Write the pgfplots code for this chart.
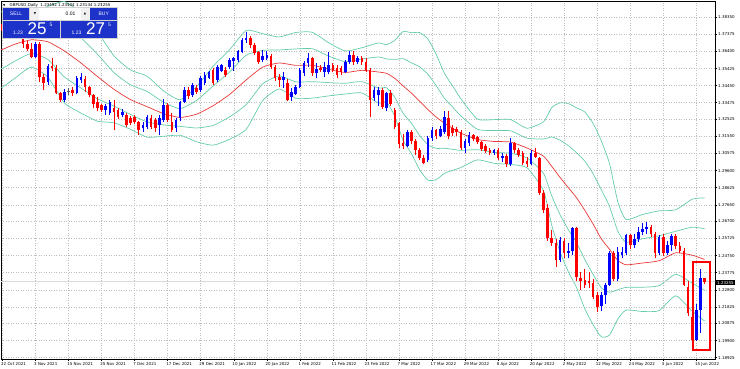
\documentclass[border=0pt]{standalone}
\usepackage{pgfplots}
\usepackage{pgfplotstable}
\pgfplotsset{compat=1.18}
\usepackage{fontspec}
\setmainfont{DejaVu Sans}
\newfontfamily\arialf{Liberation Sans}
\definecolor{cblue}{RGB}{0,0,255}
\definecolor{cred}{RGB}{255,0,0}
\definecolor{band}{RGB}{102,205,170}
\definecolor{maline}{RGB}{235,55,55}
\definecolor{panelblue}{RGB}{28,50,200}
\definecolor{gridc}{RGB}{190,190,190}

\pgfplotstableread{
i u2 u1 ma l1 l2
-1 1.38672 1.37594 1.36516 1.35438 1.34360
0 1.38672 1.37594 1.36516 1.35438 1.34360
3 1.38756 1.37786 1.36816 1.35846 1.34876
7 1.38625 1.37845 1.37065 1.36285 1.35505
11 1.38978 1.37965 1.36952 1.35939 1.34926
15 1.39250 1.37907 1.36425 1.34943 1.33461
19 1.38601 1.37172 1.35743 1.34314 1.32885
23 1.37514 1.36241 1.34968 1.33695 1.32422
27 1.36148 1.35193 1.34238 1.33283 1.32328
31 1.35342 1.34496 1.33650 1.32804 1.31958
35 1.34989 1.34119 1.33249 1.32379 1.31509
39 1.34148 1.33501 1.32854 1.32207 1.31560
43 1.33646 1.33139 1.32632 1.32125 1.31618
47 1.34398 1.33610 1.32822 1.32034 1.31246
51 1.35556 1.34430 1.33304 1.32178 1.31052
55 1.36505 1.35227 1.33949 1.32671 1.31393
59 1.37598 1.36187 1.34776 1.33365 1.31954
63 1.37416 1.36461 1.35506 1.34551 1.33596
67 1.37227 1.36485 1.35743 1.35001 1.34259
71 1.37482 1.36544 1.35606 1.34668 1.33730
75 1.37496 1.36556 1.35616 1.34676 1.33736
79 1.36893 1.36136 1.35379 1.34622 1.33865
83 1.36430 1.35815 1.35200 1.34585 1.33970
87 1.36611 1.35967 1.35323 1.34679 1.34035
91 1.36883 1.36084 1.35228 1.34315 1.33459
93 1.36793 1.35971 1.35149 1.34327 1.33505
95 1.37033 1.35948 1.34863 1.33778 1.32693
97 1.37541 1.35986 1.34431 1.32876 1.31321
99 1.37471 1.35750 1.34029 1.32308 1.30587
101 1.37479 1.35521 1.33563 1.31605 1.29647
103 1.37114 1.35100 1.33086 1.31072 1.29058
105 1.36241 1.34451 1.32661 1.30871 1.29081
107 1.35157 1.33730 1.32303 1.30876 1.29449
109 1.34430 1.33226 1.32022 1.30818 1.29614
111 1.33694 1.32715 1.31736 1.30757 1.29778
115 1.32539 1.31958 1.31377 1.30796 1.30215
119 1.32511 1.31887 1.31263 1.30639 1.30015
123 1.32514 1.31873 1.31232 1.30591 1.29950
127 1.32018 1.31454 1.30890 1.30326 1.29762
131 1.32387 1.31405 1.30423 1.29441 1.28459
133 1.33203 1.31520 1.29837 1.28154 1.26471
135 1.33465 1.31338 1.29211 1.27084 1.24957
137 1.33427 1.31028 1.28629 1.26230 1.23831
139 1.33178 1.30615 1.28052 1.25489 1.22926
141 1.32946 1.30139 1.27332 1.24525 1.21718
143 1.32298 1.29425 1.26552 1.23679 1.20806
145 1.31294 1.28499 1.25704 1.22909 1.20114
147 1.29984 1.27543 1.25102 1.22661 1.20220
149 1.27806 1.26138 1.24470 1.22802 1.21134
151 1.26810 1.25518 1.24226 1.22934 1.21642
155 1.27096 1.25712 1.24328 1.22944 1.21560
159 1.27302 1.25879 1.24456 1.23033 1.21610
163 1.27363 1.26136 1.24909 1.23682 1.22455
167 1.27969 1.26371 1.24773 1.23175 1.21577
170 1.28042 1.26285 1.24528 1.22771 1.21014
}\bands

\begin{document}
\begin{tikzpicture}[x=1pt,y=1pt]
\begin{axis}[
  at={(0,0)}, anchor=south west,
  scale only axis, width=714pt, height=358pt,
  xmin=-0.363, xmax=172.52, ymin=1.18849, ymax=1.39280,
  unbounded coords=jump,
  axis line style={black, line width=0.6pt},
  tick align=outside, major tick length=2pt,
  tick style={black, line width=0.5pt},
  xtick pos=bottom, ytick pos=right, yticklabel pos=right,
  xtick={0,8,...,168},
  xticklabels={22 Oct 2021,3 Nov 2021,15 Nov 2021,25 Nov 2021,7 Dec 2021,17 Dec 2021,29 Dec 2021,10 Jan 2022,20 Jan 2022,1 Feb 2022,11 Feb 2022,23 Feb 2022,7 Mar 2022,17 Mar 2022,29 Mar 2022,8 Apr 2022,20 Apr 2022,2 May 2022,12 May 2022,24 May 2022,3 Jun 2022,15 Jun 2022},
  ytick={1.18925,1.19900,1.20875,1.21825,1.22800,1.23775,1.24750,1.25725,1.26700,1.27650,1.28625,1.29600,1.30575,1.31550,1.32525,1.33475,1.34450,1.35425,1.36400,1.37375,1.38350},
  yticklabels={1.18925,1.19900,1.20875,1.21825,1.22800,1.23775,1.24750,1.25725,1.26700,1.27650,1.28625,1.29600,1.30575,1.31550,1.32525,1.33475,1.34450,1.35425,1.36400,1.37375,1.38350},
  grid=major,
  major grid style={gridc, line width=0.5pt, dash pattern=on 1pt off 1.5pt},
  xticklabel style={font=\fontsize{4}{5}\selectfont, anchor=north west, inner sep=0pt, xshift=-1.5pt, yshift=-1pt},
  yticklabel style={font=\fontsize{4}{5}\selectfont, anchor=west, inner sep=0pt, xshift=1pt},
]
% Bollinger bands and moving average
\addplot[band, line width=0.7pt, no marks, smooth, tension=0.35] table[x=i, y=u2] {\bands};
\addplot[band, line width=0.7pt, no marks, smooth, tension=0.35] table[x=i, y=u1] {\bands};
\addplot[band, line width=0.7pt, no marks, smooth, tension=0.35] table[x=i, y=l1] {\bands};
\addplot[band, line width=0.7pt, no marks, smooth, tension=0.35] table[x=i, y=l2] {\bands};
\addplot[maline, line width=0.7pt, no marks, smooth, tension=0.35] table[x=i, y=ma] {\bands};
% bid line
\addplot[gray!30, line width=0.6pt, no marks] coordinates {(-1,1.23255) (175,1.23255)};
% red wicks
\addplot[cred, line width=0.8pt, no marks] coordinates {
(0,1.3741)(0,1.3834)(0,nan) (2,1.3752)(2,1.3834)(2,nan) (3,1.3720)(3,1.3790)(3,nan) (5,1.3660)(5,1.3800)(5,nan)
(6,1.3640)(6,1.3700)(6,nan) (7,1.3600)(7,1.3690)(7,nan) (9,1.3466)(9,1.3695)(9,nan) (10,1.3420)(10,1.3510)(10,nan)
(12,1.3530)(12,1.3605)(12,nan) (13,1.3395)(13,1.3560)(13,nan) (14,1.3354)(14,1.3410)(14,nan) (17,1.3385)(17,1.3440)(17,nan)
(20,1.3410)(20,1.3500)(20,nan) (21,1.3380)(21,1.3445)(21,nan) (22,1.3315)(22,1.3400)(22,nan) (23,1.3300)(23,1.3380)(23,nan)
(24,1.3295)(24,1.3340)(24,nan) (27,1.3192)(27,1.3363)(27,nan) (28,1.3255)(28,1.3315)(28,nan) (30,1.3210)(30,1.3290)(30,nan)
(31,1.3220)(31,1.3270)(31,nan) (32,1.3225)(32,1.3280)(32,nan) (33,1.3165)(33,1.3245)(33,nan) (36,1.3195)(36,1.3275)(36,nan)
(37,1.3180)(37,1.3260)(37,nan) (40,1.3240)(40,1.3345)(40,nan) (41,1.3180)(41,1.3290)(41,nan) (45,1.3370)(45,1.3440)(45,nan)
(47,1.3395)(47,1.3450)(47,nan) (51,1.3450)(51,1.3545)(51,nan) (54,1.3495)(54,1.3550)(54,nan) (60,1.3660)(60,1.3730)(60,nan)
(61,1.3620)(61,1.3690)(61,nan) (62,1.3570)(62,1.3645)(62,nan) (65,1.3540)(65,1.3625)(65,nan) (66,1.3470)(66,1.3560)(66,nan)
(67,1.3440)(67,1.3510)(67,nan) (69,1.3357)(69,1.3480)(69,nan) (75,1.3500)(75,1.3610)(75,nan) (77,1.3520)(77,1.3560)(77,nan)
(80,1.3520)(80,1.3575)(80,nan) (81,1.3490)(81,1.3560)(81,nan) (82,1.3505)(82,1.3555)(82,nan) (85,1.3560)(85,1.3640)(85,nan)
(87,1.3565)(87,1.3612)(87,nan) (88,1.3520)(88,1.3600)(88,nan) (89,1.3265)(89,1.3545)(89,nan) (92,1.3310)(92,1.3430)(92,nan)
(94,1.3330)(94,1.3420)(94,nan) (95,1.3200)(95,1.3320)(95,nan) (96,1.3090)(96,1.3240)(96,nan) (97,1.3085)(97,1.3170)(97,nan)
(99,1.3110)(99,1.3190)(99,nan) (100,1.3050)(100,1.3140)(100,nan) (101,1.3020)(101,1.3090)(101,nan) (102,1.2995)(102,1.3050)(102,nan)
(105,1.3140)(105,1.3200)(105,nan) (108,1.3140)(108,1.3300)(108,nan) (109,1.3160)(109,1.3220)(109,nan) (110,1.3160)(110,1.3210)(110,nan)
(111,1.3080)(111,1.3190)(111,nan) (114,1.3130)(114,1.3170)(114,nan) (115,1.3110)(115,1.3160)(115,nan) (116,1.3070)(116,1.3130)(116,nan)
(117,1.3060)(117,1.3110)(117,nan) (118,1.3050)(118,1.3090)(118,nan) (120,1.3020)(120,1.3090)(120,nan) (122,1.2980)(122,1.3055)(122,nan)
(124,1.3060)(124,1.3125)(124,nan) (125,1.3040)(125,1.3090)(125,nan) (126,1.2990)(126,1.3070)(126,nan) (127,1.2980)(127,1.3035)(127,nan)
(129,1.3030)(129,1.3090)(129,nan) (130,1.2820)(130,1.3040)(130,nan) (131,1.2720)(131,1.2850)(131,nan) (132,1.2560)(132,1.2770)(132,nan)
(133,1.2530)(133,1.2620)(133,nan) (134,1.2411)(134,1.2570)(134,nan) (136,1.2460)(136,1.2575)(136,nan) (139,1.2330)(139,1.2640)(139,nan)
(140,1.2280)(140,1.2380)(140,nan) (141,1.2290)(141,1.2400)(141,nan) (142,1.2290)(142,1.2380)(142,nan) (143,1.2230)(143,1.2340)(143,nan)
(144,1.2155)(144,1.2270)(144,nan) (148,1.2330)(148,1.2500)(148,nan) (152,1.2510)(152,1.2600)(152,nan) (157,1.2580)(157,1.2650)(157,nan)
(158,1.2460)(158,1.2610)(158,nan) (160,1.2470)(160,1.2600)(160,nan) (163,1.2510)(163,1.2600)(163,nan) (164,1.2490)(164,1.2550)(164,nan)
(165,1.2300)(165,1.2520)(165,nan) (166,1.2130)(166,1.2330)(166,nan) (167,1.1934)(167,1.2140)(167,nan) (170,1.2314)(170,1.2350)(170,nan)
};
% red bodies
\addplot[cred, line width=2.6pt, line cap=butt, no marks] coordinates {
(0,1.3795)(0,1.3757)(0,nan) (2,1.3775)(2,1.3760)(2,nan) (3,1.3760)(3,1.3745)(3,nan) (5,1.3797)(5,1.3680)(5,nan)
(6,1.3680)(6,1.3655)(6,nan) (7,1.3655)(7,1.3610)(7,nan) (9,1.3680)(9,1.3495)(9,nan) (10,1.3495)(10,1.3460)(10,nan)
(12,1.3558)(12,1.3545)(12,nan) (13,1.3545)(13,1.3403)(13,nan) (14,1.3403)(14,1.3363)(14,nan) (17,1.3420)(17,1.3403)(17,nan)
(20,1.3483)(20,1.3437)(20,nan) (21,1.3437)(21,1.3392)(21,nan) (22,1.3392)(22,1.3340)(22,nan) (23,1.3350)(23,1.3317)(23,nan)
(24,1.3334)(24,1.3306)(24,nan) (27,1.3317)(27,1.3295)(27,nan) (28,1.3306)(28,1.3266)(28,nan) (30,1.3278)(30,1.3221)(30,nan)
(31,1.3260)(31,1.3232)(31,nan) (32,1.3266)(32,1.3240)(32,nan) (33,1.3237)(33,1.3192)(33,nan) (36,1.3260)(36,1.3209)(36,nan)
(37,1.3250)(37,1.3203)(37,nan) (40,1.3335)(40,1.3249)(40,nan) (41,1.3237)(41,1.3192)(41,nan) (45,1.3420)(45,1.3385)(45,nan)
(47,1.3432)(47,1.3409)(47,nan) (51,1.3534)(51,1.3460)(51,nan) (54,1.3534)(54,1.3506)(54,nan) (60,1.3717)(60,1.3677)(60,nan)
(61,1.3677)(61,1.3631)(61,nan) (62,1.3637)(62,1.3580)(62,nan) (65,1.3614)(65,1.3551)(65,nan) (66,1.3551)(66,1.3489)(66,nan)
(67,1.3494)(67,1.3477)(67,nan) (69,1.3460)(69,1.3363)(69,nan) (75,1.3603)(75,1.3517)(75,nan) (77,1.3545)(77,1.3534)(77,nan)
(80,1.3563)(80,1.3534)(80,nan) (81,1.3545)(81,1.3506)(81,nan) (82,1.3545)(82,1.3523)(82,nan) (85,1.3617)(85,1.3580)(85,nan)
(87,1.3603)(87,1.3580)(87,nan) (88,1.3580)(88,1.3534)(88,nan) (89,1.3534)(89,1.3363)(89,nan) (92,1.3420)(92,1.3323)(92,nan)
(94,1.3403)(94,1.3340)(94,nan) (95,1.3306)(95,1.3209)(95,nan) (96,1.3233)(96,1.3110)(96,nan) (97,1.3116)(97,1.3100)(97,nan)
(99,1.3180)(99,1.3130)(99,nan) (100,1.3130)(100,1.3077)(100,nan) (101,1.3077)(101,1.3030)(101,nan) (102,1.3030)(102,1.3004)(102,nan)
(105,1.3190)(105,1.3160)(105,nan) (108,1.3260)(108,1.3160)(108,nan) (109,1.3204)(109,1.3175)(109,nan) (110,1.3195)(110,1.3178)(110,nan)
(111,1.3178)(111,1.3090)(111,nan) (114,1.3163)(114,1.3140)(114,nan) (115,1.3150)(115,1.3125)(115,nan) (116,1.3123)(116,1.3085)(116,nan)
(117,1.3100)(117,1.3070)(117,nan) (118,1.3080)(118,1.3060)(118,nan) (120,1.3077)(120,1.3032)(120,nan) (122,1.3045)(122,1.3000)(122,nan)
(124,1.3118)(124,1.3077)(124,nan) (125,1.3077)(125,1.3050)(125,nan) (126,1.3061)(126,1.3004)(126,nan) (127,1.3015)(127,1.3000)(127,nan)
(129,1.3061)(129,1.3040)(129,nan) (130,1.3030)(130,1.2833)(130,nan) (131,1.2833)(131,1.2736)(131,nan) (132,1.2745)(132,1.2574)(132,nan)
(133,1.2574)(133,1.2547)(133,nan) (134,1.2547)(134,1.2450)(134,nan) (136,1.2560)(136,1.2490)(136,nan) (139,1.2631)(139,1.2353)(139,nan)
(140,1.2350)(140,1.2330)(140,nan) (141,1.2336)(141,1.2307)(141,nan) (142,1.2330)(142,1.2318)(142,nan) (143,1.2318)(143,1.2239)(143,nan)
(144,1.2250)(144,1.2181)(144,nan) (148,1.2490)(148,1.2343)(148,nan) (152,1.2590)(152,1.2535)(152,nan) (157,1.2640)(157,1.2600)(157,nan)
(158,1.2600)(158,1.2490)(158,nan) (160,1.2580)(160,1.2490)(160,nan) (163,1.2585)(163,1.2530)(163,nan) (164,1.2530)(164,1.2500)(164,nan)
(165,1.2500)(165,1.2307)(165,nan) (166,1.2296)(166,1.2148)(166,nan) (167,1.2125)(167,1.1993)(167,nan) (170,1.2349)(170,1.2326)(170,nan)
};
% blue wicks
\addplot[cblue, line width=0.8pt, no marks] coordinates {
(1,1.3735)(1,1.3794)(1,nan) (4,1.3735)(4,1.3810)(4,nan) (8,1.3605)(8,1.3695)(8,nan) (11,1.3449)(11,1.3570)(11,nan)
(15,1.3350)(15,1.3425)(15,nan) (18,1.3395)(18,1.3500)(18,nan) (19,1.3460)(19,1.3517)(19,nan) (25,1.3278)(25,1.3340)(25,nan)
(26,1.3280)(26,1.3365)(26,nan) (29,1.3265)(29,1.3310)(29,nan) (34,1.3180)(34,1.3240)(34,nan) (35,1.3200)(35,1.3280)(35,nan)
(38,1.3163)(38,1.3275)(38,nan) (39,1.3240)(39,1.3369)(39,nan) (42,1.3180)(42,1.3260)(42,nan) (43,1.3245)(43,1.3360)(43,nan)
(44,1.3345)(44,1.3440)(44,nan) (46,1.3380)(46,1.3460)(46,nan) (48,1.3410)(48,1.3500)(48,nan) (49,1.3450)(49,1.3520)(49,nan)
(50,1.3480)(50,1.3530)(50,nan) (52,1.3465)(52,1.3560)(52,nan) (53,1.3520)(53,1.3570)(53,nan) (55,1.3540)(55,1.3600)(55,nan)
(56,1.3530)(56,1.3610)(56,nan) (57,1.3580)(57,1.3650)(57,nan) (58,1.3630)(58,1.3715)(58,nan) (59,1.3690)(59,1.3749)(59,nan)
(63,1.3580)(63,1.3648)(63,nan) (64,1.3590)(64,1.3640)(64,nan) (68,1.3431)(68,1.3523)(68,nan) (70,1.3360)(70,1.3430)(70,nan)
(71,1.3390)(71,1.3450)(71,nan) (72,1.3430)(72,1.3545)(72,nan) (73,1.3500)(73,1.3585)(73,nan) (74,1.3551)(74,1.3630)(74,nan)
(76,1.3489)(76,1.3574)(76,nan) (78,1.3494)(78,1.3580)(78,nan) (79,1.3510)(79,1.3637)(79,nan) (83,1.3515)(83,1.3590)(83,nan)
(84,1.3570)(84,1.3640)(84,nan) (86,1.3570)(86,1.3615)(86,nan) (90,1.3360)(90,1.3440)(90,nan) (91,1.3330)(91,1.3440)(91,nan)
(93,1.3300)(93,1.3410)(93,nan) (98,1.3095)(98,1.3190)(98,nan) (103,1.3010)(103,1.3155)(103,nan) (104,1.3130)(104,1.3210)(104,nan)
(106,1.3150)(106,1.3215)(106,nan) (107,1.3170)(107,1.3300)(107,nan) (112,1.3060)(112,1.3140)(112,nan) (113,1.3100)(113,1.3180)(113,nan)
(119,1.3050)(119,1.3085)(119,nan) (121,1.3010)(121,1.3060)(121,nan) (123,1.2985)(123,1.3148)(123,nan) (128,1.2990)(128,1.3075)(128,nan)
(135,1.2440)(135,1.2580)(135,nan) (137,1.2460)(137,1.2545)(137,nan) (138,1.2480)(138,1.2640)(138,nan) (145,1.2160)(145,1.2270)(145,nan)
(146,1.2200)(146,1.2320)(146,nan) (147,1.2300)(147,1.2500)(147,nan) (149,1.2330)(149,1.2525)(149,nan) (150,1.2460)(150,1.2525)(150,nan)
(151,1.2480)(151,1.2600)(151,nan) (153,1.2520)(153,1.2600)(153,nan) (154,1.2550)(154,1.2640)(154,nan) (155,1.2590)(155,1.2660)(155,nan)
(156,1.2600)(156,1.2666)(156,nan) (159,1.2480)(159,1.2590)(159,nan) (161,1.2480)(161,1.2560)(161,nan) (162,1.2500)(162,1.2600)(162,nan)
(168,1.1990)(168,1.2200)(168,nan) (169,1.2033)(169,1.2398)(169,nan)
};
% blue bodies
\addplot[cblue, line width=2.6pt, line cap=butt, no marks] coordinates {
(1,1.3757)(1,1.3775)(1,nan) (4,1.3745)(4,1.3797)(4,nan) (8,1.3610)(8,1.3680)(8,nan) (11,1.3465)(11,1.3555)(11,nan)
(15,1.3363)(15,1.3409)(15,nan) (18,1.3403)(18,1.3489)(18,nan) (19,1.3477)(19,1.3494)(19,nan) (25,1.3306)(25,1.3329)(25,nan)
(26,1.3289)(26,1.3352)(26,nan) (29,1.3278)(29,1.3295)(29,nan) (34,1.3203)(34,1.3220)(34,nan) (35,1.3209)(35,1.3266)(35,nan)
(38,1.3220)(38,1.3260)(38,nan) (39,1.3249)(39,1.3335)(39,nan) (42,1.3203)(42,1.3249)(42,nan) (43,1.3260)(43,1.3352)(43,nan)
(44,1.3352)(44,1.3420)(44,nan) (46,1.3392)(46,1.3449)(46,nan) (48,1.3420)(48,1.3489)(48,nan) (49,1.3460)(49,1.3506)(49,nan)
(50,1.3489)(50,1.3523)(50,nan) (52,1.3477)(52,1.3551)(52,nan) (53,1.3530)(53,1.3560)(53,nan) (55,1.3551)(55,1.3591)(55,nan)
(56,1.3585)(56,1.3600)(56,nan) (57,1.3590)(57,1.3640)(57,nan) (58,1.3637)(58,1.3706)(58,nan) (59,1.3706)(59,1.3715)(59,nan)
(63,1.3591)(63,1.3614)(63,nan) (64,1.3605)(64,1.3620)(64,nan) (68,1.3477)(68,1.3494)(68,nan) (70,1.3380)(70,1.3409)(70,nan)
(71,1.3400)(71,1.3437)(71,nan) (72,1.3437)(72,1.3534)(72,nan) (73,1.3517)(73,1.3574)(73,nan) (74,1.3574)(74,1.3603)(74,nan)
(76,1.3517)(76,1.3540)(76,nan) (78,1.3523)(78,1.3551)(78,nan) (79,1.3523)(79,1.3563)(79,nan) (83,1.3523)(83,1.3580)(83,nan)
(84,1.3580)(84,1.3620)(84,nan) (86,1.3580)(86,1.3603)(86,nan) (90,1.3374)(90,1.3420)(90,nan) (91,1.3390)(91,1.3420)(91,nan)
(93,1.3317)(93,1.3403)(93,nan) (98,1.3100)(98,1.3180)(98,nan) (103,1.3020)(103,1.3146)(103,nan) (104,1.3146)(104,1.3190)(104,nan)
(106,1.3160)(106,1.3200)(106,nan) (107,1.3180)(107,1.3266)(107,nan) (112,1.3090)(112,1.3130)(112,nan) (113,1.3117)(113,1.3163)(113,nan)
(119,1.3060)(119,1.3077)(119,nan) (121,1.3032)(121,1.3045)(121,nan) (123,1.2995)(123,1.3118)(123,nan) (128,1.3000)(128,1.3061)(128,nan)
(135,1.2450)(135,1.2564)(135,nan) (137,1.2490)(137,1.2500)(137,nan) (138,1.2500)(138,1.2631)(138,nan) (145,1.2190)(145,1.2250)(145,nan)
(146,1.2250)(146,1.2310)(146,nan) (147,1.2310)(147,1.2490)(147,nan) (149,1.2343)(149,1.2495)(149,nan) (150,1.2480)(150,1.2493)(150,nan)
(151,1.2490)(151,1.2590)(151,nan) (153,1.2535)(153,1.2570)(153,nan) (154,1.2570)(154,1.2610)(154,nan) (155,1.2610)(155,1.2625)(155,nan)
(156,1.2625)(156,1.2640)(156,nan) (159,1.2490)(159,1.2580)(159,nan) (161,1.2490)(161,1.2535)(161,nan) (162,1.2535)(162,1.2585)(162,nan)
(168,1.1993)(168,1.2165)(168,nan) (169,1.2165)(169,1.2347)(169,nan)
};
% doji
\addplot[gray!70!black, line width=0.8pt, no marks] coordinates {(16,1.3390)(16,1.3430)};
\addplot[gray!70!black, line width=2.6pt, line cap=butt, no marks] coordinates {(16,1.3408)(16,1.3414)};
% highlight box
\draw[cred, line width=2pt] (axis cs:167.2,1.2438) rectangle (axis cs:171.3,1.1936);
\coordinate (bidR) at (axis cs:172.52,1.23255);
\end{axis}
% current price tag
\node[fill=black, text=white, anchor=west, inner xsep=1pt, inner ysep=0.9pt, font=\fontsize{4}{5}\selectfont] at ([xshift=1pt,yshift=-1pt]bidR) {1.23255};
% title
\node[anchor=base west, inner sep=0pt, font=\fontsize{3}{4}\selectfont] at (2,352.3) {▼};
\node[anchor=base west, inner sep=0pt, font=\fontsize{4}{5}\selectfont] at (8.5,352.3) {GBPUSD,Daily\ \ 1.23492 1.23504 1.23144 1.23255};
% one-click trading panel
\fill[gray!35] (1,320) rectangle (117,351.5);
\fill[panelblue] (1.7,339.2) rectangle (28.5,350.8);
\fill[gray!12] (29.5,339.2) rectangle (38.5,350.8);
\fill[white] (38.5,339.2) rectangle (79.5,350.8);
\fill[gray!12] (79.5,339.2) rectangle (88.5,350.8);
\fill[panelblue] (89.3,339.2) rectangle (116.2,350.8);
\fill[panelblue] (1.7,320.7) rectangle (58.5,338.4);
\fill[panelblue] (59.5,320.7) rectangle (116.2,338.4);
\node[white, font=\arialf\fontsize{5}{6}\selectfont] at (15.1,345) {SELL};
\node[white, font=\arialf\fontsize{5}{6}\selectfont] at (102.7,345) {BUY};
\node[black, font=\fontsize{3}{4}\selectfont] at (34,345) {▼};
\node[black, font=\fontsize{3}{4}\selectfont] at (84,345) {▲};
\node[black, anchor=east, font=\arialf\fontsize{5}{6}\selectfont] at (78,345) {0.01};
\node[white, anchor=base west, inner sep=0pt, font=\arialf\fontsize{5}{6}\selectfont] at (12,324.5) {1.23};
\node[white, anchor=base west, inner sep=0pt, font=\arialf\fontsize{17}{18}\selectfont] at (26.5,324.5) {25};
\node[white, anchor=base west, inner sep=0pt, font=\arialf\fontsize{5}{6}\selectfont] at (48.5,332) {5};
\node[white, anchor=base west, inner sep=0pt, font=\arialf\fontsize{5}{6}\selectfont] at (70.5,324.5) {1.23};
\node[white, anchor=base west, inner sep=0pt, font=\arialf\fontsize{17}{18}\selectfont] at (85,324.5) {27};
\node[white, anchor=base west, inner sep=0pt, font=\arialf\fontsize{5}{6}\selectfont] at (107,332) {5};
\pgfresetboundingbox
\useasboundingbox (-1,-10) rectangle (739,359);
\end{tikzpicture}
\end{document}
